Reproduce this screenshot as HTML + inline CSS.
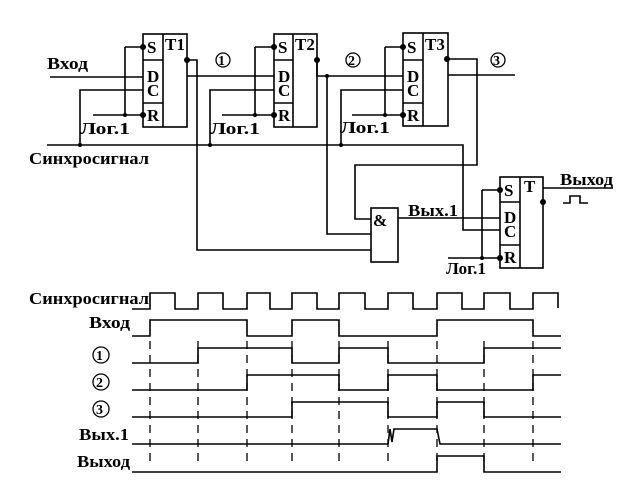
<!DOCTYPE html>
<html><head><meta charset="utf-8"><style>body{margin:0;background:#fff}svg{display:block}text{font-family:"Liberation Serif",serif;font-size:17px;fill:#000;font-weight:bold}</style></head><body>
<svg width="636" height="501" viewBox="0 0 636 501" stroke="#000" stroke-width="1.6" fill="none">
<g>
<rect x="143" y="34" width="44" height="93"/><line x1="163" y1="34" x2="163" y2="127"/><line x1="143" y1="60" x2="163" y2="60"/><line x1="143" y1="103" x2="163" y2="103"/>
<rect x="274" y="34" width="43" height="93"/><line x1="293" y1="34" x2="293" y2="127"/><line x1="274" y1="60" x2="293" y2="60"/><line x1="274" y1="103" x2="293" y2="103"/>
<rect x="403" y="33" width="45" height="93"/><line x1="423" y1="33" x2="423" y2="126"/><line x1="403" y1="60" x2="423" y2="60"/><line x1="403" y1="103" x2="423" y2="103"/>
<rect x="500" y="177" width="43" height="91"/><line x1="520" y1="177" x2="520" y2="268"/><line x1="500" y1="202" x2="520" y2="202"/><line x1="500" y1="245" x2="520" y2="245"/>
<rect x="371" y="208" width="27" height="54"/>
</g>
<g stroke="none" fill="#000" style="font-size:15px">
<text x="147" y="53">S</text><text x="165" y="50">T1</text><text x="147" y="82">D</text><text x="147" y="96">C</text><text x="147" y="121">R</text>
<text x="278" y="53">S</text><text x="295" y="50">T2</text><text x="278" y="82">D</text><text x="278" y="96">C</text><text x="278" y="121">R</text>
<text x="407" y="53">S</text><text x="425" y="50">T3</text><text x="407" y="82">D</text><text x="407" y="96">C</text><text x="407" y="121">R</text>
<text x="504" y="196">S</text><text x="524" y="192">T</text><text x="504" y="223">D</text><text x="504" y="237">C</text><text x="504" y="263">R</text>
<text x="373" y="226">&amp;</text>
<text x="218" y="65" style="font-size:14px">1</text><text x="348" y="65" style="font-size:14px">2</text><text x="493" y="65" style="font-size:14px">3</text>
</g>
<g stroke="none" fill="#000">
<text x="47" y="69" textLength="41" lengthAdjust="spacingAndGlyphs">Вход</text>
<text x="29" y="164" textLength="120" lengthAdjust="spacingAndGlyphs">Синхросигнал</text>
<text x="80" y="134" textLength="50" lengthAdjust="spacingAndGlyphs">Лог.1</text><text x="210" y="134" textLength="50" lengthAdjust="spacingAndGlyphs">Лог.1</text><text x="340" y="133" textLength="50" lengthAdjust="spacingAndGlyphs">Лог.1</text><text x="446" y="274" textLength="40" lengthAdjust="spacingAndGlyphs">Лог.1</text>
<text x="408" y="216" textLength="50" lengthAdjust="spacingAndGlyphs">Вых.1</text>
<text x="560" y="185" textLength="53" lengthAdjust="spacingAndGlyphs">Выход</text>
<circle cx="143" cy="47" r="3"/><circle cx="143" cy="115" r="3"/><circle cx="125" cy="115" r="2"/><circle cx="80" cy="145" r="2"/><circle cx="187" cy="60" r="3"/>
<circle cx="274" cy="47" r="3"/><circle cx="274" cy="115" r="3"/><circle cx="255" cy="115" r="2"/><circle cx="210" cy="145" r="2"/><circle cx="317" cy="60" r="3"/>
<circle cx="403" cy="47" r="3"/><circle cx="403" cy="115" r="3"/><circle cx="385" cy="115" r="2"/><circle cx="341" cy="145" r="2"/><circle cx="447" cy="59" r="3"/>
<circle cx="500" cy="190" r="3"/><circle cx="500" cy="258" r="3"/><circle cx="482" cy="258" r="2"/><circle cx="543" cy="202" r="3"/><circle cx="327" cy="76" r="2"/>
</g>
<g stroke-width="1.3">
<circle cx="223" cy="60" r="7"/><circle cx="353" cy="60" r="7"/><circle cx="498" cy="60" r="7"/>
</g>
<path d="M50 77H143 M47 145H463V230H500 M125 47H143 M125 47V115 M93 115H143 M80 145V90H143"/>
<path d="M255 47H274 M255 47V115 M222 115H274 M210 145V90H274 M187 76H274 M187 60H197V250H371"/>
<path d="M385 47H403 M385 47V115 M352 115H403 M341 145V90H403 M317 60V76H403 M327 76V234H371 M448 75H515 M447 59H477V165H355V219H371"/>
<path d="M482 190H500 M482 190V258 M448 258H500 M398 218H500 M543 188H613 M563 203H570V196H580V203H588"/>
<g stroke="#000" stroke-width="1.3" stroke-dasharray="8,6">
<path d="M150 341V465 M198 341V465 M247 341V465 M292 341V465 M339 341V465 M388 341V465 M437 341V465 M484 341V465 M533 341V465"/>
</g>
<path d="M132 309H150V293H175V309H198V293H223V309H247V293H270V309H292V293H317V309H339V293H365V309H388V293H413V309H437V293H462V309H484V293H510V309H533V293H558V308"/>
<path d="M132 336H150V320H247V336H292V320H339V336H437V320H533V336H561"/>
<path d="M132 363H198V348H292V363H339V348H388V363H484V348H561"/>
<path d="M132 390H247V375H339V390H388V375H437V390H533V375H561"/>
<path d="M132 417H292V402H388V417H437V402H484V417H561"/>
<path d="M132 444H388L390 429L392 442L394 429H437L440 444H561"/>
<path d="M132 472H437V456H484V472H561"/>
<g stroke="none" fill="#000">
<text x="29" y="304" textLength="120" lengthAdjust="spacingAndGlyphs">Синхросигнал</text>
<text x="89" y="328" textLength="41" lengthAdjust="spacingAndGlyphs">Вход</text>
<text x="79" y="440" textLength="50" lengthAdjust="spacingAndGlyphs">Вых.1</text>
<text x="77" y="467" textLength="53" lengthAdjust="spacingAndGlyphs">Выход</text>
<text x="96" y="360" style="font-size:14px">1</text><text x="96" y="387" style="font-size:14px">2</text><text x="96" y="414" style="font-size:14px">3</text>
</g>
<g stroke-width="1.3"><circle cx="101" cy="355" r="8"/><circle cx="101" cy="382" r="8"/><circle cx="101" cy="409" r="8"/></g>
</svg>
</body></html>
